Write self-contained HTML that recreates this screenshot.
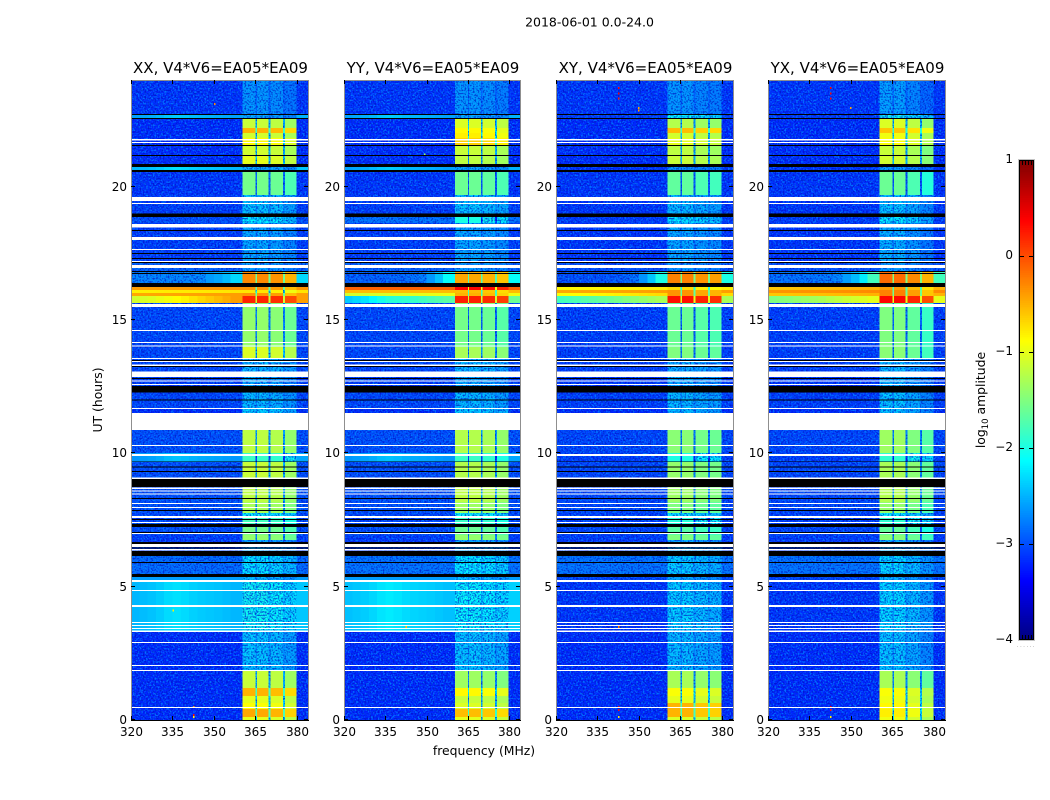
<!DOCTYPE html>
<html lang="en">
<head>
<meta charset="utf-8">
<title>2018-06-01 waterfall</title>
<style>
html,body{margin:0;padding:0;background:#fff;}
svg{display:block;font-family:"DejaVu Sans","Liberation Sans",sans-serif;fill:#000;}
</style>
</head>
<body>
<svg id="chart" xmlns="http://www.w3.org/2000/svg" width="1050" height="800" viewBox="0 0 1050 800" shape-rendering="crispEdges">
  <defs>
    <filter id="speckle-light" x="0" y="0" width="100%" height="100%" color-interpolation-filters="sRGB">
      <feTurbulence type="fractalNoise" baseFrequency="0.6" numOctaves="1" seed="7"/>
      <feColorMatrix type="matrix" values="0 0 0 0 0  0 0 0 0 0.55  0 0 0 0 1  5 0 0 0 -2.35"/>
    </filter>
    <filter id="speckle-dark" x="0" y="0" width="100%" height="100%" color-interpolation-filters="sRGB">
      <feTurbulence type="fractalNoise" baseFrequency="0.6" numOctaves="1" seed="23"/>
      <feColorMatrix type="matrix" values="0 0 0 0 0  0 0 0 0 0.05  0 0 0 0 0.75  0 4.5 0 0 -2.1"/>
    </filter>
  </defs>
  <text x="589.5" y="26.5" text-anchor="middle" font-size="12.5">2018-06-01 0.0-24.0</text>
  <text transform="translate(102,400) rotate(-90)" text-anchor="middle" font-size="12.4">UT (hours)</text>
  <text x="484" y="755" text-anchor="middle" font-size="12.4">frequency (MHz)</text>
  <text transform="translate(985,400) rotate(-90)" text-anchor="middle" font-size="12.4">log<tspan font-size="8.5" dy="3">10</tspan><tspan dy="-3"> amplitude</tspan></text>
  <g id="panels"></g>
  <g id="colorbar"></g>
</svg>
<script>
// ---- Categories and tick labels ----
const panelTitles = ["XX, V4*V6=EA05*EA09", "YY, V4*V6=EA05*EA09", "XY, V4*V6=EA05*EA09", "YX, V4*V6=EA05*EA09"];
const freqTicks = [320, 335, 350, 365, 380];
const hourTicks = [0, 5, 10, 15, 20];
const colorTicks = [1, 0, -1, -2, -3, -4];

// ---- Time segment edges (UT hours) ----
const segmentEdges = [
  0, .11, .41, .64, .9, 1.2, 1.84, 3.3, 5.21, 5.47,
  6.15, 6.75, 6.94, 7.24, 7.57, 7.76, 8.17, 8.74, 9.11, 9.67,
  9.9, 10.01, 10.87, 11.7, 12.26, 12.86, 13.46, 13.57, 13.99, 15.49,
  15.64, 15.9, 16.01, 16.12, 16.24, 16.39, 16.8, 17.17, 18.64, 18.86,
  19.69, 20.55, 20.62, 20.73, 21.18, 21.56, 21.82, 22.01, 22.2, 22.54,
  22.69, 22.72, 24
];

// ---- Frequency blocks (MHz) ----
const quietFreqEdges = [320, 323, 326, 329, 332, 335, 338, 341, 344, 347, 350, 353, 356, 360.4];
const quietFreqShape = [-.08, -.05, -.02, .03, .1, .13, .1, .05, .02, 0, -.02, -.05, -.08];
const hotFreqMix = [0, .05, .1, .18, .25, .33, .4, .5, .6, .7, .8, .9, 1];
const coolFreqMix = [0, 0, 0, 0, 0, 0, .03, .06, .12, .2, .35, .6, 1];
const coolSegment = 35;
const blockStart = [360.4, 365.5, 370.4, 375.6];
const blockEnd = [365, 369.8, 374.9, 379.9];
const notchDrop = [1.3, 1.3, 1.3, 1.3];
const notchDropQuiet = [.3, .3, .3, .3];
const upperEdgeStart = 379.9;
const upperEdgeEnd = 384;

// ---- Log amplitude outside the receiver band, per time segment ----
const xxOutside = [
  -3.2, -3.2, -3.2, -3.2, -3.2, -3.2, -3.2, -2.4, -2.6, -2.85,
  -3.1, -3.1, -3, -3.05, -3.05, -3, -3, -3, -3, -2.55,
  -2.55, -3, -3.2, -3.05, -3.1, -3.05, -3.05, -3.05, -3.05, -3.05,
  -1.1, -.45, -.8, -.4, -3.2, -2.7, -2.9, -3.1, -3, -3.1,
  -3.15, -3.2, -2.4, -3.2, -3.2, -3.2, -3.2, -3.2, -3.2, -2.5,
  -3.2, -3.15
];
const yyOutside = [
  -3.2, -3.2, -3.2, -3.2, -3.2, -3.2, -3.2, -2.35, -2.6, -2.8,
  -3.1, -3.1, -3, -3.05, -3.05, -3, -3, -3, -3, -2.55,
  -2.55, -3, -3.2, -3.05, -3.1, -3.05, -3.05, -3.05, -3.05, -3.05,
  -2.3, -1.1, -.55, -.1, -3.2, -2.9, -2.9, -3.1, -2.8, -3.1,
  -3.15, -3.2, -2.5, -3.2, -3.2, -3.2, -3.2, -3.2, -3.2, -2.5,
  -3.2, -3.15
];
const xyOutside = [
  -3.2, -3.2, -3.2, -3.2, -3.2, -3.2, -3.2, -3.15, -3.05, -2.8,
  -3.1, -3.1, -3.05, -3.1, -3.1, -3.05, -3.05, -3.05, -3.05, -3.1,
  -3.1, -3.05, -3.2, -3.1, -3.15, -3.1, -3.1, -3.1, -3.1, -3.1,
  -1.8, -.9, -.45, -.85, -3.2, -3, -3, -3.15, -3.1, -3.15,
  -3.15, -3.2, -3.15, -3.2, -3.2, -3.2, -3.2, -3.2, -3.2, -3.1,
  -3.2, -3.15
];
const yxOutside = [
  -3.2, -3.2, -3.2, -3.2, -3.2, -3.2, -3.2, -3.15, -3.05, -2.8,
  -3.1, -3.1, -3.05, -3.1, -3.1, -3.05, -3.05, -3.05, -3.05, -3.1,
  -3.1, -3.05, -3.2, -3.1, -3.15, -3.1, -3.1, -3.1, -3.1, -3.1,
  -1.5, -.6, -.35, -.6, -3.2, -2.8, -3, -3.15, -3.1, -3.15,
  -3.15, -3.2, -3.15, -3.2, -3.2, -3.2, -3.2, -3.2, -3.2, -3.1,
  -3.2, -3.15
];

// ---- Upper-frequency level during the bright 15.6-16.8 h event ----
const hotSegmentFirst = 30;
const xxHotUpper = [-.4, -.4, -.75, -.35, -3.2, -2.3];
const yyHotUpper = [-1.6, -.95, -.55, -.1, -3.2, -2.1];
const xyHotUpper = [-1.3, -.7, -.4, -.8, -3.2, -2];
const yxHotUpper = [-1, -.5, -.3, -.5, -3.2, -1.8];

// ---- Log amplitude inside the receiver band, per time segment ----
const xxBand = [
  -1, -.45, -.9, -1, -.5, -1.15, -2.35, -2.05, -2.4, -2.2,
  -2.5, -1.4, -1.55, -1.8, -2.1, -1.3, -1.2, -1.2, -1.15, -1.85,
  -1.85, -1.2, -2.3, -2.4, -2.5, -2.4, -2.4, -1.05, -1.4, -1.4,
  .2, -.35, -.75, -.35, -2.5, -.3, -2.55, -2.5, -2.15, -2.35,
  -1.55, -2.5, -2.45, -1, -1.1, -.85, -1.1, -.5, -1.15, -2.5,
  -2.6, -2.6
];
const yyBand = [
  -1, -.55, -1.05, -1.15, -.85, -1.35, -2.35, -2.1, -2.4, -2.15,
  -2.5, -1.4, -1.6, -1.85, -2.1, -1.35, -1.2, -1.2, -1.25, -1.85,
  -1.85, -1.25, -2.3, -2.4, -2.5, -2.4, -2.4, -1.3, -1.55, -1.4,
  .22, -.5, -.55, .35, -2.5, -.45, -2.55, -2.5, -2, -2.35,
  -1.6, -2.5, -2.5, -1.2, -1.15, -.65, -.8, -.85, -1.05, -2.5,
  -2.6, -2.6
];
const xyBand = [
  -1.05, -.5, -.5, -1, -.9, -1.3, -2.4, -2.3, -2.5, -2.3,
  -2.5, -1.5, -1.7, -1.95, -2.2, -1.5, -1.35, -1.3, -1.4, -2,
  -2, -1.45, -2.4, -2.4, -2.5, -2.45, -2.45, -1.5, -1.6, -1.6,
  .3, -.35, -.35, -.7, -2.5, -.25, -2.6, -2.5, -2.2, -2.4,
  -1.65, -2.6, -2.6, -1.15, -1.2, -1, -1.1, -.55, -1.25, -2.1,
  -2.6, -2.6
];
const yxBand = [
  -1, -.85, -.9, -1, -.95, -1.35, -2.4, -2.3, -2.5, -2.3,
  -2.5, -1.5, -1.7, -1.95, -2.2, -1.45, -1.3, -1.3, -1.35, -1.95,
  -1.95, -1.4, -2.4, -2.4, -2.5, -2.45, -2.45, -1.5, -1.55, -1.6,
  .3, -.3, -.3, -.45, -2.5, -.2, -2.6, -2.5, -2.2, -2.4,
  -1.65, -2.6, -2.6, -1.15, -1.2, -.95, -1, -.65, -1.1, -2.1,
  -2.6, -2.6
];

// ---- Relative level of each spectral window, per polarisation ----
const xxBlockGain = [0, 0, -.05, -.2];
const yyBlockGain = [0, 0, -.05, -.15];
const xyBlockGain = [0, 0, -.1, -.15];
const yxBlockGain = [.05, .05, -.1, -.3];

// ---- Flagged time ranges (UT hours) ----
const noDataStart = [
  .45, 1.84, 2.02, 2.89, 3.3, 3.41, 3.52, 3.64, 4.24, 4.84,
  5.17, 6.36, 6.49, 6.97, 7.39, 7.57, 7.95, 8.1, 8.45, 8.57,
  8.66, 9.04, 9.9, 10.27, 10.87, 11.66, 12.56, 12.69, 12.86, 13.27,
  13.42, 13.54, 14, 14.14, 14.59, 15.49, 16.95, 17.17, 17.62, 18,
  18.47, 19.35, 19.47, 21.64, 21.73
];
const noDataEnd = [
  .49, 1.88, 2.06, 2.92, 3.36, 3.45, 3.56, 3.67, 4.31, 4.87,
  5.25, 6.41, 6.6, 7.01, 7.42, 7.65, 7.99, 8.14, 8.49, 8.61,
  8.72, 9.09, 9.97, 10.31, 11.51, 11.7, 12.6, 12.73, 13.06, 13.33,
  13.46, 13.57, 14.05, 14.17, 14.62, 15.6, 17.06, 17.21, 17.66, 18.11,
  18.6, 19.39, 19.61, 21.67, 21.79
];
const zeroStart = [
  5.36, 5.89, 6.15, 6.43, 6.6, 7.01, 7.24, 7.5, 7.84, 8.29,
  8.74, 9.3, 9.47, 9.67, 11.98, 12.28, 12.79, 13.24, 13.47, 16.24,
  16.72, 16.8, 17.14, 17.29, 17.47, 18.34, 18.86, 20.55, 20.73, 21.15,
  21.52, 22.54, 22.69
];
const zeroEnd = [
  5.47, 5.92, 6.34, 6.47, 6.67, 7.05, 7.35, 7.54, 7.87, 8.32,
  9.04, 9.34, 9.5, 9.69, 12.02, 12.52, 12.82, 13.27, 13.5, 16.39,
  16.76, 16.84, 17.17, 17.32, 17.51, 18.37, 18.99, 20.62, 20.85, 21.18,
  21.56, 22.58, 22.72
];

// ---- Narrow-band interference dots ----
const rfiPanel = [2, 2, 2, 2, 2, 2, 2, 2, 2, 3, 3, 3, 3, 3, 3, 3, 0, 0, 0, 0, 0, 1, 1];
const rfiFreq = [342.4, 342.4, 342.4, 349.6, 349.6, 342.4, 342.4, 342.4, 342.4, 342.4, 342.4, 342.4, 349.6, 342.4, 342.4, 342.4, 342.4, 342.4, 342.4, 350, 335, 342.4, 349];
const rfiHour = [23.7, 23.5, 23.3, 22.95, 22.85, .49, .37, .11, 3.49, 23.7, 23.5, 23.3, 22.95, .49, .37, .11, .49, .19, .11, 23.1, 4.1, 3.49, 21.2];
const rfiLevel = [.4, .4, .3, -.4, -.4, .4, .3, -.8, -.2, .4, .4, .3, -.4, .4, .3, -.8, -.3, .3, -.8, -.3, -.8, -.6, -1.4];

const panelOutside = [xxOutside, yyOutside, xyOutside, yxOutside];
const panelHotUpper = [xxHotUpper, yyHotUpper, xyHotUpper, yxHotUpper];
const panelBand = [xxBand, yyBand, xyBand, yxBand];
const panelBlockGain = [xxBlockGain, yyBlockGain, xyBlockGain, yxBlockGain];
const panelKeys = ["xx", "yy", "xy", "yx"];

// ---- Layout ----
const panelLefts = [131, 344, 556, 768];
const panelWidths = [177, 176, 177, 177];
const plotTop = 80;
const plotBottom = 720;
const freqMin = 320, freqMax = 384;
const hourMin = 0, hourMax = 24;
const levelMin = -4, levelMax = 1;
const barLeft = 1019, barWidth = 15, barTop = 160, barBottom = 640;

const NS = "http://www.w3.org/2000/svg";
function make(tag, attrs, parent) {
  const el = document.createElementNS(NS, tag);
  for (const k in attrs) el.setAttribute(k, attrs[k]);
  parent.appendChild(el);
  return el;
}
function xScale(p, f) { return panelLefts[p] + (f - freqMin) / (freqMax - freqMin) * panelWidths[p]; }
function yScale(h) { return plotBottom - (h - hourMin) / (hourMax - hourMin) * (plotBottom - plotTop); }
function barScale(l) { return barBottom - (l - levelMin) / (levelMax - levelMin) * (barBottom - barTop); }
function jet(level) {
  const v = Math.max(0, Math.min(1, (level - levelMin) / (levelMax - levelMin)));
  const ch = function (c) { return Math.round(255 * Math.max(0, Math.min(1, 1.5 - Math.abs(4 * v - c)))); };
  return "rgb(" + ch(3) + "," + ch(2) + "," + ch(1) + ")";
}

const panelsGroup = document.getElementById("panels");
panelTitles.forEach(function (title, p) {
  const left = panelLefts[p];
  const panelWidth = panelWidths[p];
  const key = panelKeys[p];
  const g = make("g", {}, panelsGroup);
  
  
  const low = make("g", {}, g);
  
  
  const speckleLight = make("rect", { x: left, y: plotTop, width: panelWidth, height: plotBottom - plotTop, filter: "url(#speckle-light)", opacity: 0.75 }, g);
  
  
  const speckleDark = make("rect", { x: left, y: plotTop, width: panelWidth, height: plotBottom - plotTop, filter: "url(#speckle-dark)", opacity: 0.65 }, g);
  
  
  const high = make("g", {}, g);
  
  

  function cell(f0, f1, s, level, smoothFrom) {
    const yTop = yScale(segmentEdges[s + 1]);
    const yBot = yScale(segmentEdges[s]);
    const x0 = xScale(p, f0);
    const x1 = xScale(p, f1);
    const r = make("rect", { x: x0, y: yTop, width: x1 - x0, height: yBot - yTop, fill: jet(level) }, level < smoothFrom ? low : high);
    
    
  }

  for (let s = 0; s < segmentEdges.length - 1; s++) {
    const lower = panelOutside[p][s];
    const hotIndex = s - hotSegmentFirst;
    const upper = hotIndex >= 0 && hotIndex < panelHotUpper[p].length ? panelHotUpper[p][hotIndex] : lower;
    const mixArray = s === coolSegment ? coolFreqMix : hotFreqMix;
    for (let b = 0; b < quietFreqShape.length; b++) {
      const mixed = lower + (upper - lower) * mixArray[b];
      cell(quietFreqEdges[b], quietFreqEdges[b + 1], s, mixed + (lower > -2.6 && lower < -2 ? quietFreqShape[b] : 0), -2.65);
    }
    const band = panelBand[p][s];
    for (let w = 0; w < blockStart.length; w++) {
      cell(blockStart[w], blockEnd[w], s, band + panelBlockGain[p][w], -2.02);
      const notchEnd = w + 1 < blockStart.length ? blockStart[w + 1] : upperEdgeStart;
      if (notchEnd > blockEnd[w]) {
        const drop = band < -2 ? notchDropQuiet[w] : notchDrop[w];
        cell(blockEnd[w], notchEnd, s, band - drop, -2.02);
      }
    }
    cell(upperEdgeStart, upperEdgeEnd, s, upper, -2.65);
  }

  rfiPanel.forEach(function (owner, i) {
    if (owner !== p) return;
    const dot = make("rect", { x: xScale(p, rfiFreq[i]), y: yScale(rfiHour[i]) - 1, width: 1.6, height: 2, fill: jet(rfiLevel[i]) }, g);
    
    
  });

  noDataStart.forEach(function (h0, i) {
    const y0 = yScale(noDataEnd[i]);
    const gap = make("rect", { x: left, y: y0, width: panelWidth, height: yScale(h0) - y0, fill: "#fff" }, g);
    
    
  });
  zeroStart.forEach(function (h0, i) {
    const y0 = yScale(zeroEnd[i]);
    const gap = make("rect", { x: left, y: y0, width: panelWidth, height: yScale(h0) - y0, fill: "#000" }, g);
    
    
  });

  const frame = make("rect", { x: left + 0.5, y: plotTop + 0.5, width: panelWidth, height: plotBottom - plotTop, fill: "none", stroke: "#8f8f8f", "stroke-width": 1 }, g);
  
  
  const base = make("line", { x1: left, x2: left + panelWidth + 1, y1: plotBottom + 0.5, y2: plotBottom + 0.5, stroke: "#000" }, g);
  
  

  freqTicks.forEach(function (f) {
    const x = Math.round(xScale(p, f)) + 0.5;
    const t1 = make("line", { x1: x, x2: x, y1: plotBottom, y2: plotBottom - 4, stroke: "#000" }, g);
    
    
    const t2 = make("line", { x1: x, x2: x, y1: plotTop, y2: plotTop + 4, stroke: "#000" }, g);
    
    
    const label = make("text", { x: x, y: plotBottom + 16, "text-anchor": "middle", "font-size": 12 }, g);
    label.textContent = f;
    
    
  });
  hourTicks.forEach(function (h) {
    const y = Math.round(yScale(h)) - 0.5;
    const t1 = make("line", { x1: left, x2: left + 4, y1: y, y2: y, stroke: "#000" }, g);
    
    
    const t2 = make("line", { x1: left + panelWidth, x2: left + panelWidth - 4, y1: y, y2: y, stroke: "#000" }, g);
    
    
    const label = make("text", { x: left - 4, y: y + 4.5, "text-anchor": "end", "font-size": 12 }, g);
    label.textContent = h;
    
    
  });

  const titleEl = make("text", { x: left + panelWidth / 2 + 1, y: 73, "text-anchor": "middle", "font-size": 15 }, g);
  titleEl.textContent = title;
  
  
});

// ---- Colorbar ----
const barGroup = document.getElementById("colorbar");
const barSteps = 256;
for (let i = 0; i < barSteps; i++) {
  const l0 = levelMin + (levelMax - levelMin) * i / barSteps;
  const l1 = levelMin + (levelMax - levelMin) * (i + 1) / barSteps;
  const y1 = barScale(l1);
  const swatch = make("rect", { x: barLeft, y: y1, width: barWidth, height: barScale(l0) - y1 + 0.5, fill: jet((l0 + l1) / 2) }, barGroup);
  
  
}
const barHalo = make("rect", { x: barLeft - 0.5, y: barTop - 0.5, width: barWidth + 1, height: barBottom - barTop + 1, fill: "none", stroke: "#c4c4c4" }, barGroup);


const barFrame = make("rect", { x: barLeft + 0.5, y: barTop + 0.5, width: barWidth - 1, height: barBottom - barTop - 1, fill: "none", stroke: "#000" }, barGroup);


colorTicks.forEach(function (l) {
  const y = Math.round(barScale(l));
  const yLine = Math.min(barBottom - 0.5, Math.max(barTop + 0.5, y + 0.5));
  const t1 = make("line", { x1: barLeft, x2: barLeft + 5, y1: yLine, y2: yLine, stroke: "#000" }, barGroup);
  
  
  const t2 = make("line", { x1: barLeft + barWidth, x2: barLeft + barWidth - 5, y1: yLine, y2: yLine, stroke: "#000" }, barGroup);
  
  
  const label = make("text", { x: barLeft - 6, y: y + 3, "text-anchor": "end", "font-size": 12 }, barGroup);
  label.textContent = (l < 0 ? "\u2212" + (-l) : String(l));
  
  
});
const minorOffsets = [3, 6, 9, 12];
minorOffsets.forEach(function (dx) {
  const top = make("line", { x1: barLeft + dx + 0.5, x2: barLeft + dx + 0.5, y1: barTop, y2: barTop + 5, stroke: "#000" }, barGroup);
  
  
  const bottom = make("line", { x1: barLeft + dx + 0.5, x2: barLeft + dx + 0.5, y1: barBottom, y2: barBottom - 5, stroke: "#000" }, barGroup);
  
  
});
const barDots = make("text", { x: barLeft + barWidth / 2, y: barBottom + 7, "text-anchor": "middle", "font-size": 5, "letter-spacing": 1.6, fill: "#777" }, barGroup);
barDots.textContent = "......";


</script>
</body>
</html>
